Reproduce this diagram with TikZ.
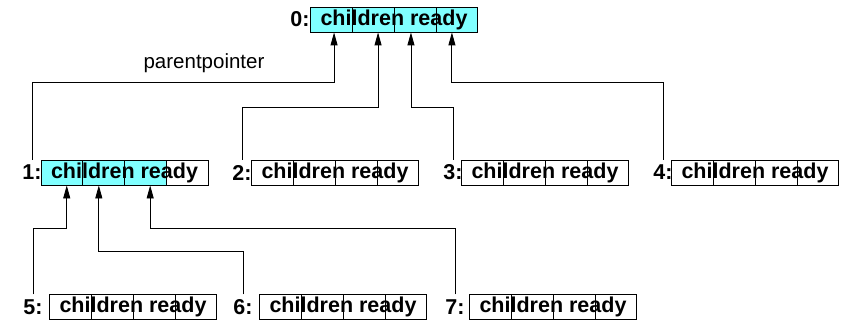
\documentclass[tikz,border=0pt]{standalone}
\usepackage{fontspec}
\setmainfont{Liberation Sans}
\usetikzlibrary{arrows.meta,calc,backgrounds}
\definecolor{cellcyan}{RGB}{128,255,255}
\tikzset{
  rec/.style={draw, line width=0.9pt, inner sep=0pt, minimum width=167pt, minimum height=25pt,
    font=\fontsize{21.5}{24}\selectfont\bfseries},
  lab/.style={inner sep=0pt, minimum height=25pt, font=\fontsize{21.5}{24}\selectfont\bfseries},
  conn/.style={line width=0.9pt, -{Triangle[width=7pt,length=13pt]}},
  divider/.style={line width=0.9pt}
}
\newcommand{\celldividers}[1]{%
  \foreach \f in {0.25,0.5,0.75}
    \draw[divider] ($(#1.south west)!\f!(#1.south east)$) -- ($(#1.north west)!\f!(#1.north east)$);}
\begin{document}
\begin{tikzpicture}[x=1pt,y=-1pt]
\useasboundingbox (0,0) rectangle (843,321);
% boxes
\node[rec] (n0) at (394,19.5) {children ready};
\node[rec] (n1) at (124.5,172.5) {children ready};
\node[rec] (n2) at (335,172.5) {children ready};
\node[rec] (n3) at (545,172.5) {children ready};
\node[rec] (n4) at (755,172.5) {children ready};
\node[rec] (n5) at (133,307) {children ready};
\node[rec] (n6) at (343,307) {children ready};
\node[rec] (n7) at (553,307) {children ready};
% fills
\begin{scope}[on background layer]
  \fill[cellcyan] (n0.south west) rectangle (n0.north east);
  \fill[cellcyan] (n1.south west) rectangle ($(n1.north west)!0.75!(n1.north east)$);
\end{scope}
% dividers
\celldividers{n0}\celldividers{n1}\celldividers{n2}\celldividers{n3}
\celldividers{n4}\celldividers{n5}\celldividers{n6}\celldividers{n7}
% labels
\node[lab] (l0) at (300,19.5) {0:};
\node[lab] (l1) at (32,172.5) {1:};
\node[lab] (l2) at (242,172.5) {2:};
\node[lab] (l3) at (453,172.5) {3:};
\node[lab] (l4) at (663,172.5) {4:};
\node[lab] (l5) at (33,307) {5:};
\node[lab] (l6) at (243,307) {6:};
\node[lab] (l7) at (455,307) {7:};
\node[font=\fontsize{20.5}{24}\selectfont, anchor=base, inner sep=0pt] (pp) at (204,68) {parentpointer};
% targets
\coordinate (t01) at ($(n0.south west)!0.143!(n0.south east)$);
\coordinate (t02) at ($(n0.south west)!0.405!(n0.south east)$);
\coordinate (t03) at ($(n0.south west)!0.601!(n0.south east)$);
\coordinate (t04) at ($(n0.south west)!0.845!(n0.south east)$);
\coordinate (t15) at ($(n1.south west)!0.156!(n1.south east)$);
\coordinate (t16) at ($(n1.south west)!0.347!(n1.south east)$);
\coordinate (t17) at ($(n1.south west)!0.653!(n1.south east)$);
% connectors
\draw[conn] (l1.north) -- (l1.north |- 0,82) -| (t01);
\draw[conn] (l2.north) -- (l2.north |- 0,107) -| (t02);
\draw[conn] (l3.north) -- (l3.north |- 0,107) -| (t03);
\draw[conn] (l4.north) -- (l4.north |- 0,82) -| (t04);
\draw[conn] (l5.north) -- (l5.north |- 0,228) -| (t15);
\draw[conn] (l6.north) -- (l6.north |- 0,251) -| (t16);
\draw[conn] (l7.north) -- (l7.north |- 0,228) -| (t17);
\end{tikzpicture}
\end{document}
